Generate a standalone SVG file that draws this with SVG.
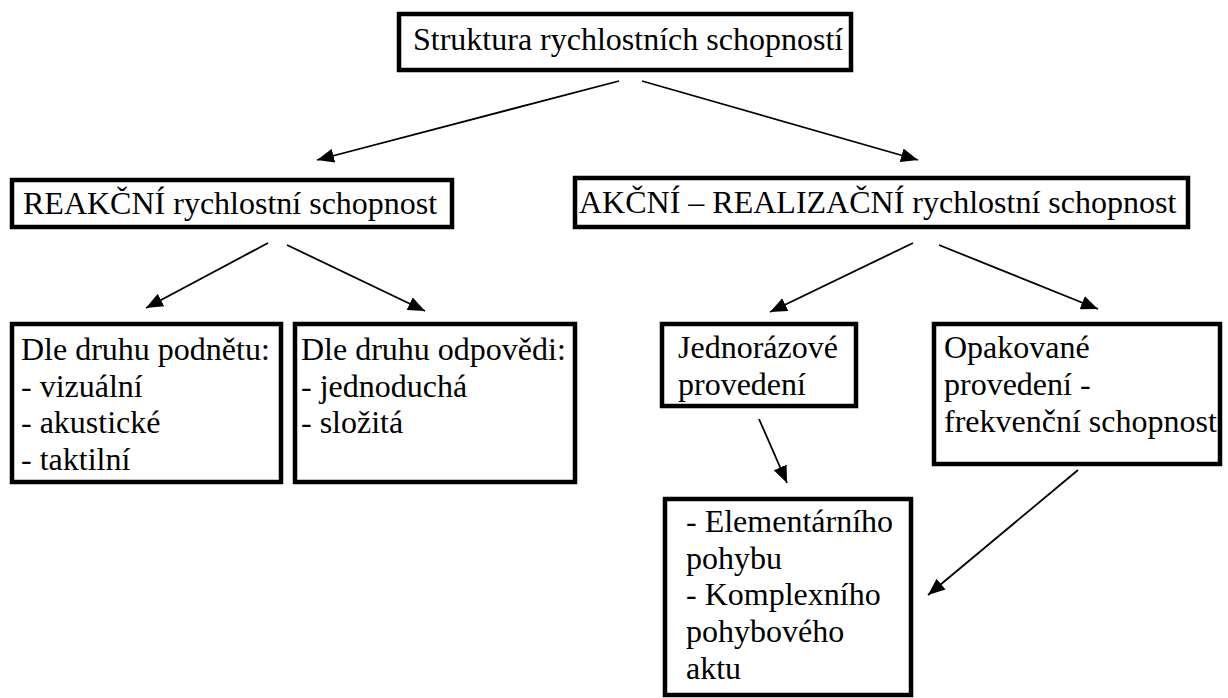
<svg xmlns="http://www.w3.org/2000/svg" width="1228" height="698" viewBox="0 0 1228 698">
<style>
.box{fill:#fff;stroke:#000;stroke-width:4.5;stroke-linejoin:miter}
.t{font-family:'Liberation Serif','Times New Roman',Tinos,'DejaVu Serif',serif;font-size:32px;fill:#000}
.c{stroke:#000;stroke-width:1.8;fill:none;marker-end:url(#ah)}
</style>
<defs>
<marker id="ah" markerUnits="userSpaceOnUse" markerWidth="17" markerHeight="14" refX="17" refY="7" orient="auto">
<path d="M0,0 L17,7 L0,14 z" fill="#000"/>
</marker>
</defs>
<rect width="1228" height="698" fill="#fff"/>
<g id="connectors">
<line class="c" x1="619" y1="81" x2="317" y2="160"/>
<line class="c" x1="642" y1="81" x2="918" y2="160"/>
<line class="c" x1="268" y1="243" x2="146" y2="308"/>
<line class="c" x1="287" y1="245" x2="425" y2="311"/>
<line class="c" x1="913" y1="243" x2="770" y2="312"/>
<line class="c" x1="939" y1="245" x2="1098" y2="309"/>
<line class="c" x1="759" y1="419" x2="787" y2="483"/>
<line class="c" x1="1078" y1="470" x2="928" y2="595"/>
</g>
<g id="root">
<rect class="box" x="399" y="14" width="452" height="56"/>
<text class="t" font-family="Liberation Serif, serif" x="413" y="50">Struktura rychlostních schopností</text>
</g>
<g id="reakcni">
<rect class="box" x="12" y="180" width="440" height="47"/>
<text class="t" x="23" y="214">REAKČNÍ rychlostní schopnost</text>
</g>
<g id="akcni">
<rect class="box" x="575" y="178" width="613" height="49"/>
<text class="t" x="579" y="213">AKČNÍ – REALIZAČNÍ rychlostní schopnost</text>
</g>
<g id="podnet">
<rect class="box" x="12" y="324" width="269" height="158"/>
<text class="t"><tspan x="21" y="360">Dle druhu podnětu:</tspan><tspan x="21" y="397">- vizuální</tspan><tspan x="21" y="433">- akustické</tspan><tspan x="21" y="470">- taktilní</tspan></text>
</g>
<g id="odpoved">
<rect class="box" x="295" y="324" width="280" height="158"/>
<text class="t"><tspan x="301" y="360">Dle druhu odpovědi:</tspan><tspan x="301" y="397">- jednoduchá</tspan><tspan x="301" y="433">- složitá</tspan></text>
</g>
<g id="jednorazove">
<rect class="box" x="662" y="324" width="194" height="82"/>
<text class="t"><tspan x="678" y="358">Jednorázové</tspan><tspan x="678" y="395">provedení</tspan></text>
</g>
<g id="opakovane">
<rect class="box" x="934" y="324" width="286" height="140"/>
<text class="t"><tspan x="944" y="358">Opakované</tspan><tspan x="944" y="395">provedení -</tspan><tspan x="944" y="432">frekvenční schopnost</tspan></text>
</g>
<g id="pohyb">
<rect class="box" x="665" y="499" width="246" height="196"/>
<text class="t"><tspan x="686" y="532">- Elementárního</tspan><tspan x="686" y="569">pohybu</tspan><tspan x="686" y="605">- Komplexního</tspan><tspan x="686" y="642">pohybového</tspan><tspan x="686" y="679">aktu</tspan></text>
</g>
</svg>
